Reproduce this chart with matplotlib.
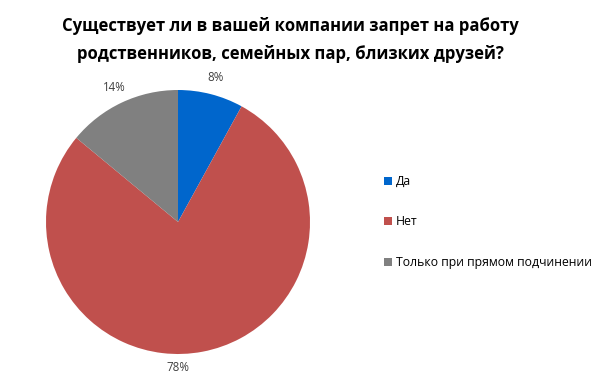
import matplotlib
matplotlib.use("Agg")
import matplotlib.pyplot as plt
from matplotlib.patches import Patch

plt.rcParams['font.family'] = ['Open Sans', 'DejaVu Sans']

categories = ["Да", "Нет", "Только при прямом подчинении"]
values = [8, 78, 14]
colors = ["#0066CC", "#C0504D", "#808080"]
title = "Существует ли в вашей компании запрет на работу\nродственников, семейных пар, близких друзей?"

fig = plt.figure(figsize=(6, 3.85), dpi=100)
cx, cy, r = 178, 222, 132
ax = fig.add_axes([(cx - r) / 600, (385 - cy - r) / 385, 2 * r / 600, 2 * r / 385])
wedges, texts, autotexts = ax.pie(values, colors=colors, startangle=90, counterclock=False,
                                  autopct=lambda p: f"{p:.0f}%", pctdistance=1.13,
                                  wedgeprops=dict(linewidth=0),
                                  textprops=dict(fontsize=8.3, color="#404040"))
autotexts[1].set_position((0, -1.1))
ax.set_aspect('equal')
ax.set_xlim(-1, 1)
ax.set_ylim(-1, 1)
ax.axis('off')

fig.text(290 / 600, 1 - 40 / 385, title, ha='center', va='center', fontsize=12,
         fontweight='bold', linespacing=1.75, color="#000000")

handles = [Patch(facecolor=c, edgecolor='none') for c in colors]
fig.legend(handles, categories, loc='upper left', bbox_to_anchor=(373 / 600, 1 - 164 / 385),
           frameon=False, fontsize=8.8, handlelength=0.65, handleheight=0.65, handletextpad=0.3,
           labelspacing=2.25, labelcolor="#000000")

fig.savefig("out.png", dpi=100, facecolor="white")
